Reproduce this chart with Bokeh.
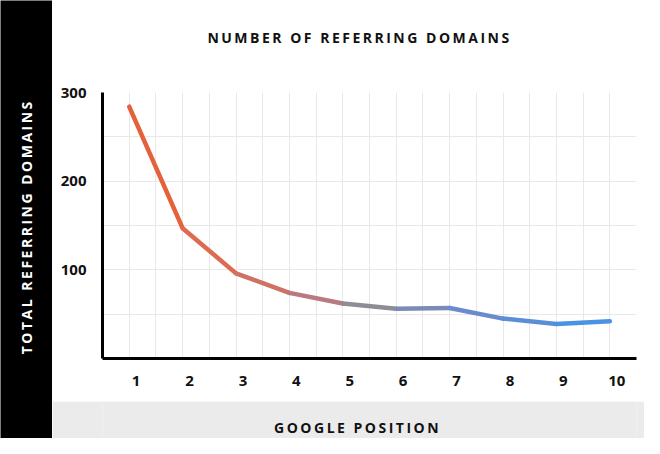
import numpy as np
from bokeh.plotting import figure
from bokeh.layouts import row, column
from bokeh.models import Range1d, FixedTicker
from bokeh.core.properties import value
from bokeh.embed import file_html
from bokeh.resources import INLINE

# ---- data ----
positions = [1, 2, 3, 4, 5, 6, 7, 8, 9, 10]
referring_domains = [284, 147, 96, 74, 62, 56, 57, 45, 39, 42]
y_tick_values = [100, 200, 300]
x_tick_values = positions
title_text = "NUMBER OF REFERRING DOMAINS"
x_label_text = "GOOGLE POSITION"
y_label_text = "TOTAL REFERRING DOMAINS"

# ---- styles ----
segment_colors = ["#e4613b", "#de6a4f", "#cf7264", "#b9797f", "#908c96",
                  "#7a8cb6", "#6a8ccc", "#5a8fd8", "#4a92e2"]
FONT = "Open Sans"
SPACED = {"letter-spacing": "2.5px"}
LABEL_SHIFT = 0.13  # tick labels sit slightly right of their ticks


def blank(width, height, fill):
    f = figure(width=width, height=height, output_backend="svg",
               toolbar_location=None, x_range=Range1d(0, width),
               y_range=Range1d(0, height), x_axis_type=None, y_axis_type=None,
               min_border=0)
    f.outline_line_color = None
    f.background_fill_color = fill
    f.border_fill_color = fill
    f.grid.visible = False
    f.styles = SPACED
    return f


# ---- title band ----
t = blank(592, 68, "white")
t.text(x=[247.5], y=[31], text=[title_text], text_align="center",
       text_baseline="middle", text_font=value(FONT), text_font_style="bold",
       text_font_size="14px", text_color="#111111")

# ---- main chart ----
p = figure(width=592, height=333, output_backend="svg", toolbar_location=None,
           x_range=Range1d(0.5, 10.5), y_range=Range1d(0, 300),
           min_border_left=50, min_border_right=8, min_border_top=24,
           min_border_bottom=43)
p.outline_line_color = None
p.background_fill_color = "white"
p.border_fill_color = "white"
p.extra_x_ranges = {"labels": Range1d(0.5 - LABEL_SHIFT, 10.5 - LABEL_SHIFT)}

p.segment(x0=positions[:-1], y0=referring_domains[:-1],
          x1=positions[1:], y1=referring_domains[1:],
          line_color=segment_colors, line_width=4.5, line_cap="round")

for ax in (p.xaxis[0], p.yaxis[0]):
    ax.axis_line_color = "black"
    ax.axis_line_width = 3
    ax.major_tick_line_color = None
    ax.minor_tick_line_color = None
    ax.major_label_text_font = FONT
    ax.major_label_text_font_style = "bold"
    ax.major_label_text_font_size = "15px"
    ax.major_label_text_color = "#111111"
p.xaxis[0].x_range_name = "labels"
p.xaxis[0].ticker = FixedTicker(ticks=x_tick_values)
p.yaxis[0].ticker = FixedTicker(ticks=y_tick_values)
p.xaxis[0].major_label_standoff = 11
p.yaxis[0].major_label_standoff = 10

p.xgrid[0].ticker = FixedTicker(ticks=list(np.arange(1, 10.51, 0.5)))
p.ygrid[0].ticker = FixedTicker(ticks=list(np.arange(50, 301, 50)))
p.xgrid[0].grid_line_color = "#e8e8e8"
p.ygrid[0].grid_line_color = "#e8e8e8"

# ---- bottom band ----
b = blank(592, 37, "#ebebeb")
b.text(x=[262], y=[11], text=[x_label_text], text_align="center",
       text_baseline="middle", text_font=value(FONT), text_font_style="bold",
       text_font_size="14px", text_color="#111111")

# ---- left band ----
l = blank(52, 438, "black")
l.text(x=[26], y=[183], text=[y_label_text], angle=np.pi / 2,
       text_align="center", text_baseline="middle", text_font=value(FONT),
       text_font_style="bold", text_font_size="14px", text_color="white")

layout = row(l, column(t, p, b, spacing=0), spacing=0)
open("out.html", "w").write(file_html(layout, INLINE))
